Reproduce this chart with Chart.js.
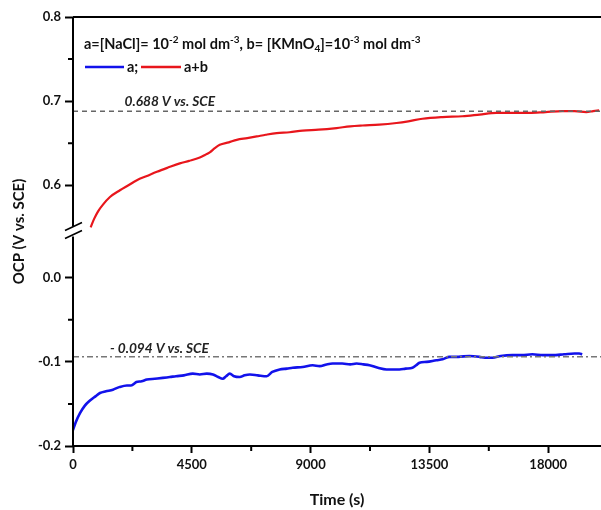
<!DOCTYPE html>
<html>
<head>
<meta charset="utf-8">
<script src="https://cdn.jsdelivr.net/npm/chart.js@4/dist/chart.umd.min.js"></script>
<style>
  html, body { margin: 0; padding: 0; background: #fff; }
  #wrap { width: 601px; height: 510px; }
</style>
</head>
<body>
<div id="wrap"><canvas id="chart"></canvas></div>
<script>
// OCP curve for solution a (NaCl only)
const timeA = [0, 100, 265, 450, 643, 850, 1021, 1250, 1513, 1750, 2042, 2200, 2400, 2600, 2799, 3100, 3400, 3669, 3900, 4200,
  4538, 4800, 5068, 5300, 5500, 5673, 5800, 5938, 6100, 6316, 6500, 6700, 7000, 7337, 7550, 7829, 8100, 8320, 8700, 9077,
  9341, 9606, 9833, 10200, 10500, 10740, 11000, 11232, 11550, 11875, 12100, 12367, 12600, 12859, 13000, 13124, 13400, 13766, 14000, 14258,
  14600, 15015, 15400, 15600, 15885, 16200, 16641, 17000, 17398, 17800, 18154, 18600, 19000, 19175, 19289];
const ocpA = [-0.181, -0.172, -0.161, -0.152, -0.146, -0.141, -0.137, -0.135, -0.133, -0.130, -0.128, -0.128, -0.124, -0.123, -0.121, -0.120, -0.119, -0.118, -0.117, -0.116,
  -0.114, -0.115, -0.114, -0.115, -0.118, -0.120, -0.117, -0.114, -0.117, -0.118, -0.116, -0.115, -0.116, -0.117, -0.112, -0.109, -0.108, -0.107, -0.106, -0.104,
  -0.105, -0.103, -0.102, -0.102, -0.103, -0.102, -0.103, -0.104, -0.107, -0.109, -0.109, -0.109, -0.108, -0.107, -0.104, -0.101, -0.100, -0.098, -0.097, -0.094,
  -0.094, -0.093, -0.094, -0.095, -0.095, -0.093, -0.092, -0.092, -0.091, -0.092, -0.092, -0.091, -0.090, -0.090, -0.091];

// OCP curve for solution a+b (NaCl + KMnO4)
const timeAB = [669, 800, 950, 1135, 1400, 1777, 2100, 2420, 2800, 3177, 3600, 4047, 4400, 4803, 5000, 5181, 5370, 5559, 5900, 6202,
  6600, 6959, 7300, 7715, 8200, 8698, 9300, 9984, 10500, 10968, 11600, 12254, 12700, 13237, 14000, 14750, 15400, 16036, 16700, 17284,
  17900, 18532, 19000, 19440, 19700, 19931];
const ocpAB = [0.550, 0.560, 0.569, 0.577, 0.586, 0.594, 0.600, 0.606, 0.611, 0.616, 0.621, 0.626, 0.629, 0.633, 0.636, 0.639, 0.644, 0.648, 0.651, 0.654,
  0.656, 0.658, 0.660, 0.662, 0.663, 0.665, 0.666, 0.668, 0.670, 0.671, 0.672, 0.674, 0.676, 0.679, 0.681, 0.682, 0.684, 0.686, 0.686, 0.686,
  0.687, 0.688, 0.688, 0.687, 0.688, 0.689];

// steady-state reference levels
const refAB = 0.688;
const refA = -0.094;

// axis ticks
const xMajor = [0, 4500, 9000, 13500, 18000];
const xMinor = [2250, 6750, 11250, 15750];
const yMajorLow = [-0.2, -0.1, 0.0];
const yMinorLow = [-0.15, -0.05];
const yMajorHigh = [0.6, 0.7, 0.8];
const yMinorHigh = [0.65, 0.75];

// broken axis: upper segment shifted down by GAP, break drawn at BREAK
const GAP = 0.49;
const BREAK = 0.055;
const r3 = v => Math.round(v * 1000) / 1000;
const up = v => r3(v - GAP);
const real = v => (v > BREAK ? v + GAP : v);

const RED = 'rgb(232,22,28)';
const BLUE = 'rgb(18,18,235)';
const FONT = 'Lato, "Open Sans", sans-serif';

const yMajorT = yMajorLow.concat(yMajorHigh.map(up));
const yMinorT = yMinorLow.concat(yMinorHigh.map(up));

const overlay = {
  id: 'overlay',
  afterDraw(chart) {
    const { ctx, chartArea: ca, scales: { x, y } } = chart;
    ctx.save();
    ctx.strokeStyle = '#000';
    ctx.lineWidth = 2;
    // frame top + broken left axis
    const yb = y.getPixelForValue(BREAK);
    ctx.beginPath();
    ctx.moveTo(ca.left, ca.top); ctx.lineTo(ca.right, ca.top);
    ctx.moveTo(ca.left, ca.top); ctx.lineTo(ca.left, yb - 5);
    ctx.moveTo(ca.left, yb + 5); ctx.lineTo(ca.left, ca.bottom + 1);
    ctx.stroke();
    ctx.lineWidth = 1.6;
    ctx.beginPath();
    ctx.moveTo(ca.left - 8, yb - 1); ctx.lineTo(ca.left + 9, yb - 9);
    ctx.moveTo(ca.left - 8, yb + 7); ctx.lineTo(ca.left + 9, yb - 1);
    ctx.stroke();
    // minor ticks
    ctx.lineWidth = 2;
    ctx.beginPath();
    yMinorT.forEach(v => {
      const p = y.getPixelForValue(v);
      ctx.moveTo(ca.left - 5, p); ctx.lineTo(ca.left, p);
    });
    xMinor.forEach(v => {
      const p = x.getPixelForValue(v);
      ctx.moveTo(p, ca.bottom); ctx.lineTo(p, ca.bottom + 5);
    });
    ctx.stroke();

    // header line with super/subscripts
    ctx.fillStyle = '#111';
    ctx.textBaseline = 'alphabetic';
    const parts = [
      ['a=[NaCl]= 10', 0], ['-2', 1], [' mol dm', 0], ['-3', 1], [', b= [KMnO', 0], ['4', -1],
      [']=10', 0], ['-3', 1], [' mol dm', 0], ['-3', 1]
    ];
    let tx = ca.left + 11;
    const ty = 49;
    parts.forEach(([s, k]) => {
      ctx.font = k === 0 ? 'bold 14.5px ' + FONT : 'bold 10px ' + FONT;
      ctx.fillText(s, tx, ty + (k === 1 ? -6 : k === -1 ? 3 : 0));
      tx += ctx.measureText(s).width;
    });

    // legend
    const ly = 67;
    ctx.font = 'bold 14.5px ' + FONT;
    ctx.textBaseline = 'middle';
    ctx.lineWidth = 2.5;
    ctx.strokeStyle = BLUE;
    ctx.beginPath(); ctx.moveTo(85, ly); ctx.lineTo(124, ly); ctx.stroke();
    ctx.fillText('a;', 127, ly);
    ctx.strokeStyle = RED;
    ctx.beginPath(); ctx.moveTo(141, ly); ctx.lineTo(181, ly); ctx.stroke();
    ctx.fillText('a+b', 184, ly);

    // reference labels
    ctx.font = 'italic bold 13.7px ' + FONT;
    ctx.textBaseline = 'alphabetic';
    ctx.fillStyle = '#222';
    ctx.fillText('0.688 V vs. SCE', x.getPixelForValue(1950), y.getPixelForValue(up(refAB)) - 5);
    ctx.fillText('- 0.094 V vs. SCE', x.getPixelForValue(1400), y.getPixelForValue(refA) - 4);
    ctx.restore();
  }
};

new Chart(document.getElementById('chart'), {
  type: 'line',
  data: {
    datasets: [
      {
        label: 'ref a+b',
        data: [{ x: 0, y: up(refAB) }, { x: 20000, y: up(refAB) }],
        borderColor: '#666', borderWidth: 1.5, borderDash: [5, 4], pointRadius: 0
      },
      {
        label: 'ref a',
        data: [{ x: 0, y: refA }, { x: 20000, y: refA }],
        borderColor: '#777', borderWidth: 1.5, borderDash: [6, 3, 2, 3], pointRadius: 0
      },
      {
        label: 'a',
        data: timeA.map((t, i) => ({ x: t, y: ocpA[i] })),
        borderColor: BLUE, borderWidth: 2.6, pointRadius: 0, cubicInterpolationMode: 'monotone'
      },
      {
        label: 'a+b',
        data: timeAB.map((t, i) => ({ x: t, y: up(ocpAB[i]) })),
        borderColor: RED, borderWidth: 2.2, pointRadius: 0, cubicInterpolationMode: 'monotone'
      }
    ]
  },
  options: {
    responsive: true,
    maintainAspectRatio: false,
    animation: false,
    layout: { padding: { top: 17, right: 0, left: 0, bottom: 0 } },
    plugins: { legend: { display: false }, tooltip: { enabled: false } },
    scales: {
      x: {
        type: 'linear', min: 0, max: 20000,
        afterBuildTicks: s => { s.ticks = xMajor.map(v => ({ value: v })); },
        afterFit: s => { s.height = 64; },
        grid: { drawOnChartArea: false, tickLength: 7, tickWidth: 2, tickColor: '#000' },
        border: { display: true, color: '#000', width: 2 },
        ticks: { color: '#111', font: { family: FONT, size: 13, weight: 'bold' }, padding: 4, maxRotation: 0,
          callback: v => String(v) },
        title: { display: true, text: 'Time (s)', color: '#111', font: { family: FONT, size: 16, weight: 'bold' },
          padding: { top: 0, bottom: 1 } }
      },
      y: {
        type: 'linear', min: -0.2, max: up(0.8),
        afterBuildTicks: s => { s.ticks = yMajorT.map(v => ({ value: v })); },
        afterFit: s => { s.width = 73; },
        grid: { drawOnChartArea: false, tickLength: 8, tickWidth: 2, tickColor: '#000' },
        border: { display: false },
        ticks: { color: '#111', font: { family: FONT, size: 13, weight: 'bold' }, padding: 4,
          callback: v => real(v).toFixed(1) },
        title: { display: true, text: 'OCP (V vs. SCE)', color: '#111', font: { family: FONT, size: 15, weight: 'bold' },
          padding: { top: 10, bottom: 0 } }
      }
    }
  },
  plugins: [overlay]
});
</script>
</body>
</html>
